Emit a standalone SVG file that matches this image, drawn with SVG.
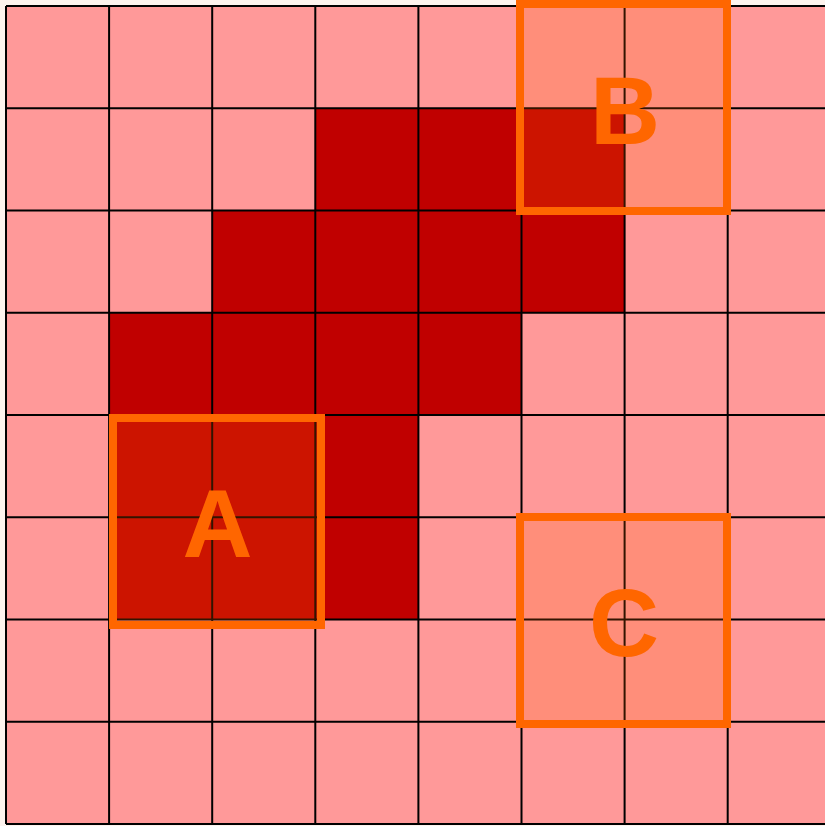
<svg xmlns="http://www.w3.org/2000/svg" width="825" height="826" viewBox="0 0 825 826">
<style>
.l{fill:#ff9999}
.d{fill:#c00000}
.g{stroke:#000;stroke-width:2;fill:none}
.box{fill:#ff6600;fill-opacity:0.2;stroke:#ff6600;stroke-width:8}
.lab{font-family:"Liberation Sans",Arial,sans-serif;font-weight:bold;font-size:97px;fill:#ff6600;text-anchor:middle}
</style>
<rect x="0" y="0" width="825" height="826" fill="#fdf3ee"/>
<g id="cells">
<rect class="l" x="6" y="6" width="830" height="818"/>
<rect class="d" x="315.3" y="108.25" width="309.3" height="102.25"/>
<rect class="d" x="212.2" y="210.5" width="412.4" height="102.25"/>
<rect class="d" x="109.1" y="312.75" width="412.4" height="102.25"/>
<rect class="d" x="109.1" y="415" width="309.3" height="204.5"/>
</g>
<g id="grid" class="g">
<path d="M6 6V824M109.1 6V824M212.2 6V824M315.3 6V824M418.4 6V824M521.5 6V824M624.6 6V824M727.7 6V824"/>
<path d="M6 6H825M6 108.25H825M6 210.5H825M6 312.75H825M6 415H825M6 517.25H825M6 619.5H825M6 721.75H825M6 824H825"/>
</g>
<g id="A">
<rect class="box" x="113" y="418" width="208" height="207"/>
<text class="lab" x="217.5" y="557">A</text>
</g>
<g id="B">
<rect class="box" x="520" y="4" width="207" height="207"/>
<text class="lab" x="625" y="144">B</text>
</g>
<g id="C">
<rect class="box" x="520" y="517" width="207" height="207"/>
<text class="lab" x="624" y="656">C</text>
</g>
</svg>
